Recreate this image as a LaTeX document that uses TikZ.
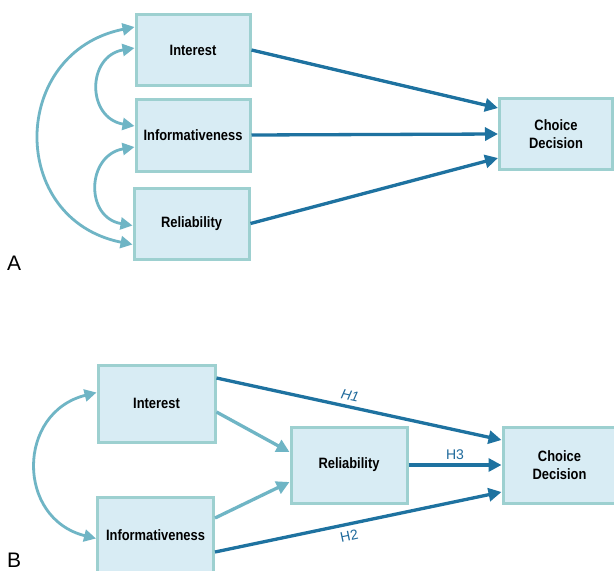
\documentclass[tikz,border=0pt]{standalone}
\usepackage{fontspec}
\setmainfont{Liberation Sans}
\newfontfamily\boxfont[FakeStretch=0.86]{Liberation Sans}
\usetikzlibrary{arrows.meta}
\definecolor{boxfill}{HTML}{D8ECF4}
\definecolor{boxline}{HTML}{9DD0D0}
\definecolor{darkarr}{HTML}{1E72A0}
\definecolor{lightarr}{HTML}{6FB5C5}
\definecolor{hlab}{HTML}{1F6A9C}
\tikzset{
  vbox/.style={draw=boxline, fill=boxfill, line width=3pt, align=center,
    font=\boxfont\bfseries\fontsize{15}{18}\selectfont, inner sep=0pt},
  darkline/.style={draw=darkarr, line width=3.3pt, -{Triangle[length=13pt,width=13pt]}},
  lightline/.style={draw=lightarr, line width=3.3pt, -{Triangle[length=13pt,width=13pt]}},
  bothlight/.style={draw=lightarr, line width=2.8pt, {Triangle[length=12pt,width=12pt]}-{Triangle[length=12pt,width=12pt]}},
  hlabel/.style={text=hlab, font=\fontsize{14}{16}\selectfont, inner sep=0pt},
  panel/.style={font=\fontsize{21}{23}\selectfont, inner sep=0pt, anchor=base west}
}
\begin{document}
\begin{tikzpicture}[x=1pt, y=-1pt]
\useasboundingbox[fill=white] (0,0) rectangle (614,571);
% Panel A
\node[vbox, minimum width=114pt, minimum height=71pt] (intA) at (193,50) {Interest};
\node[vbox, minimum width=114pt, minimum height=72pt] (infA) at (193,135) {Informativeness};
\node[vbox, minimum width=115pt, minimum height=71pt] (relA) at (191.5,223.5) {Reliability};
\node[vbox, minimum width=113pt, minimum height=71pt] (choA) at (556,134) {Choice\\Decision};
\node[panel] (labA) at (7,270) {A};

\draw[darkline] (intA.east) -- ([yshift=26pt]choA.west);
\draw[darkline] (infA.east) -- (choA.west);
\draw[darkline] (relA.east) -- ([yshift=-24pt]choA.west);

\draw[bothlight] ([yshift=23pt]intA.west) .. controls +(-125,25) and +(-125,-25) .. ([yshift=-21pt]relA.west);
\draw[bothlight] ([yshift=2pt]intA.west) .. controls +(-48,8) and +(-48,-8) .. ([yshift=9pt]infA.west);
\draw[bothlight] ([yshift=-12pt]infA.west) .. controls +(-48,8) and +(-48,-8) .. ([yshift=-2pt]relA.west);

% Panel B
\node[vbox, minimum width=117pt, minimum height=77pt] (intB) at (156.5,403.5) {Interest};
\node[vbox, minimum width=116pt, minimum height=77pt] (infB) at (155.5,535.5) {Informativeness};
\node[vbox, minimum width=116pt, minimum height=76pt] (relB) at (349,465) {Reliability};
\node[vbox, minimum width=113pt, minimum height=76pt] (choB) at (559.5,465) {Choice\\Decision};
\node[panel] (labB) at (7,567) {B};

\draw[darkline] ([yshift=25.5pt]intB.east) -- node[hlabel, pos=0.46, above=5pt, sloped, font=\itshape\fontsize{14}{16}\selectfont] {H1} ([yshift=25pt]choB.west);
\draw[lightline] ([yshift=-8.5pt]intB.east) -- ([yshift=13pt]relB.west);
\draw[lightline] ([yshift=17.5pt]infB.east) -- ([yshift=-17pt]relB.west);
\draw[darkline] ([yshift=-16.5pt]infB.east) -- node[hlabel, pos=0.46, below=5pt, sloped] {H2} ([yshift=-27pt]choB.west);
\draw[darkline] (relB.east) -- node[hlabel, above=4pt] {H3} (choB.west);

\draw[bothlight] ([yshift=11pt]intB.west) .. controls +(-80,20) and +(-80,-20) .. ([yshift=-3pt]infB.west);
\end{tikzpicture}
\end{document}
